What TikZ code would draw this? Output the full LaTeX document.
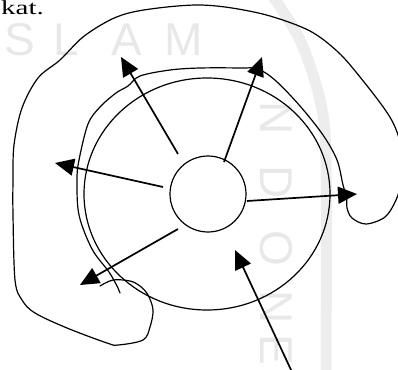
\documentclass[tikz,border=0pt]{standalone}
\usepackage{fontspec}
\setmainfont{Liberation Serif}
\newfontfamily\wmfont{Liberation Sans}
\usetikzlibrary{arrows.meta}
\begin{document}
\begin{tikzpicture}[x=1pt,y=-1pt,
  ray/.style={line width=1.7pt, -{Triangle[length=19pt,width=17pt]}},
  curve/.style={line width=1.2pt, line join=round, line cap=round},
  wm/.style={text=black!9, font=\wmfont\fontsize{46pt}{46pt}\selectfont, inner sep=0pt},
  wmband/.style={draw=black!7, line width=11pt},
]
\useasboundingbox (0,0) rectangle (398,369);
\clip (0,0) rectangle (398,369);
% watermark
\draw[wmband] plot[smooth] coordinates {(272,-5) (300,40) (320,100) (326,160) (326,375)};
\node[wm] (wS) at (20,40) {S};
\node[wm] (wL) at (66,40) {L};
\node[wm] (wA) at (127,40) {A};
\node[wm] (wM) at (184,40) {M};
\node[wm, rotate=-90] (wN1) at (276,118) {N};
\node[wm, rotate=-90] (wD) at (276,182) {D};
\node[wm, rotate=-90] (wO) at (276,248) {O};
\node[wm, rotate=-90] (wN2) at (276,307) {N};
\node[wm, rotate=-90] (wE) at (276,350) {E};
% text
\node[anchor=base west, inner sep=0pt, font=\fontsize{20pt}{20pt}\selectfont] (txt) at (1,15) {\scalebox{1.45}[1]{kat.}};
% wheel
\draw[curve] (207,194) ellipse [x radius=123, y radius=116];
\node[circle, draw, line width=1.2pt, minimum size=76pt, inner sep=0pt] (hub) at (208,194) {};
% outer double arc
\draw[curve] plot[smooth, tension=0.55] coordinates {(120,293) (117,286) (109,272) (92,249) (79,215) (77,180) (79,160) (88,124) (100,107) (116,93) (128,86) (140,76) (170,70) (200,68) (240,68) (258,69) (276,81) (300,106) (323,135) (337,160) (343,185) (346,194)};
% big C
\draw[curve] plot[smooth, tension=0.55] coordinates {(347,198) (347,208) (352,218) (366,224) (385,217) (396,200) (402,180) (404,160) (397,132) (386,111) (360,77) (338,52) (310,31) (270,16) (232,8) (200,5) (167,7) (133,12) (110,20) (83,37) (60,60) (38,78) (22,108) (14,145) (13,180) (13,215) (15,280) (22,300) (35,313) (67,328) (107,343) (118,345) (143,340) (150,327) (153,310) (148,295) (140,286) (130,281) (113,280) (100,286)};
% arrows
\coordinate (s1) at (178,154); \coordinate (t1) at (121,57);
\coordinate (s2) at (224,162); \coordinate (t2) at (262,57);
\coordinate (s3) at (163,187); \coordinate (t3) at (55,163);
\coordinate (s4) at (247,201); \coordinate (t4) at (357,194);
\coordinate (s5) at (178,229); \coordinate (t5) at (80,285);
\coordinate (s6) at (292,372); \coordinate (t6) at (235,250);
\draw[ray] (s1) -- (t1);
\draw[ray] (s2) -- (t2);
\draw[ray] (s3) -- (t3);
\draw[ray] (s4) -- (t4);
\draw[ray] (s5) -- (t5);
\draw[ray] (s6) -- (t6);
\end{tikzpicture}
\end{document}
